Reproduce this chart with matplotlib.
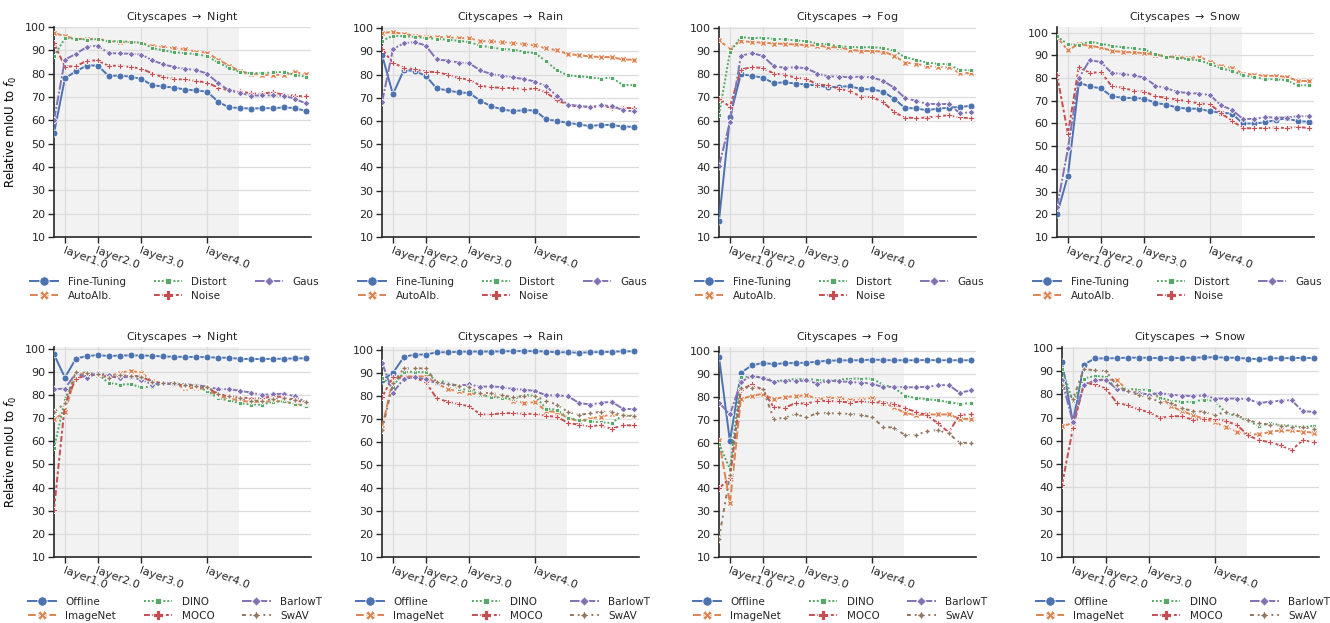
import matplotlib

matplotlib.use("Agg")
import matplotlib.pyplot as plt
import numpy as np

W, H = 1330, 623

COLORS = ["#4C72B0", "#DD8452", "#55A868", "#C44E52", "#8172B3", "#937860"]
MARKERS = ["o", "X", (4, 0, 45), "P", (4, 0, 0), (4, 1, 0)]
DASHES = [None, (4, 1.5), (1, 1), (3, 1.25, 1.5, 1.25), (5, 1, 1, 1), (2, 2, 1, 2)]

tick_pos = [1, 4, 8, 14]
tick_labels = ["layer1.0", "layer2.0", "layer3.0", "layer4.0"]

domains = ["Night", "Rain", "Fog", "Snow"]

top_names = ["Fine-Tuning", "AutoAlb.", "Distort", "Noise", "Gaus"]
bottom_names = ["Offline", "ImageNet", "DINO", "MOCO", "BarlowT", "SwAV"]

# ---- top row: augmentation strategies ----
night_top = [
    [54.5, 78, 81, 83.5, 83.5, 79, 79.2, 78.7, 77.7, 75, 74.5, 74, 73.2, 72.8, 72.3, 68, 65.5, 65.3, 65, 65.2, 65.2, 65.5, 65.3, 64],
    [97.5, 96, 95, 94.8, 95, 94, 93.5, 93.5, 93.2, 92, 91.5, 91, 90.5, 89.5, 89, 86, 83.5, 81, 80, 79.5, 79.5, 79.5, 80.5, 80],
    [87.5, 95.2, 95, 94.6, 94.8, 93.8, 94, 93.6, 93.3, 91, 90, 89.2, 88.8, 88.3, 87.5, 84.8, 82.5, 80.7, 80.2, 80.3, 80.5, 80.8, 79.5, 78.7],
    [93, 83, 83.2, 85.5, 85.7, 83.3, 83.5, 82.8, 82.2, 80, 78.5, 77.7, 77.5, 76.8, 76.2, 74, 72.8, 72.5, 71.5, 71.5, 72, 71, 70.5, 70.3],
    [60, 86, 88.5, 91.5, 92, 88.8, 88.7, 88.5, 88.2, 85.7, 84, 82.8, 82, 81.6, 80, 76, 72.8, 71.8, 70.5, 70.7, 70.7, 70.5, 69.3, 67.3],
]
rain_top = [
    [88.5, 71.5, 82, 81.5, 79.5, 74, 73.2, 72.3, 72, 68.7, 66.3, 65, 64.2, 64.7, 64.5, 60.7, 60, 59.2, 58.5, 57.8, 58.3, 58.3, 57.6, 57.5],
    [98, 98.3, 97.5, 96.8, 96.2, 96.3, 96, 95.8, 95.6, 94.5, 94.3, 94, 93.6, 93.2, 92.6, 91.3, 90.5, 88.8, 88.4, 87.8, 87.6, 87.5, 86.5, 86.4],
    [94.5, 96.8, 96.5, 96.3, 95.7, 95.4, 95, 94.6, 94, 92.5, 91.7, 91, 90.8, 89.8, 89.2, 85.8, 81.8, 79.6, 79.3, 78.8, 78.3, 78.7, 75.6, 75.4],
    [91, 85, 83, 82.2, 81.3, 81, 80, 78.5, 77.8, 75.2, 74.5, 74.3, 74.2, 73.7, 74, 72.3, 69, 67, 66.2, 66, 66.3, 65.8, 65.7, 65.5],
    [68, 91, 93.5, 94, 92.5, 86.5, 86, 85.2, 84.8, 81.8, 80.2, 79.5, 78.8, 78, 77, 75, 70.7, 67, 66.5, 66, 66.7, 66.5, 64.7, 64.1],
]
fog_top = [
    [17, 61.5, 80, 79.3, 78.5, 76.2, 76.5, 76, 75.5, 75.2, 74.3, 74.7, 74.8, 73.6, 73.5, 72.5, 69.5, 65.5, 65.3, 64.5, 65.2, 65.5, 66, 66.3],
    [94.5, 91, 94.3, 93.8, 93.6, 93.2, 93, 92.8, 92.5, 92.3, 91.7, 91.5, 90.5, 90, 90, 89.7, 88, 85, 84.5, 83.5, 83.3, 83, 80.5, 80.5],
    [62.5, 89.5, 96, 95.5, 95.7, 95.2, 95, 94.5, 94.2, 93.2, 92.8, 92, 91.8, 91.5, 91.7, 91.2, 90.2, 87.3, 86.2, 85, 84.5, 84.3, 81.8, 81.7],
    [69.5, 66, 82, 83, 82.7, 80.3, 79.8, 78.5, 78, 75.5, 75.2, 73.7, 72.7, 70.3, 70.2, 68, 63.8, 61.3, 61.2, 61.3, 62, 62.3, 61.4, 61.1],
    [40.5, 59.5, 87.8, 89.2, 87.8, 83.5, 82.7, 83, 82.5, 80.3, 79, 79, 78.6, 79, 78.6, 77.2, 74.2, 69.8, 68.5, 67.3, 67.1, 67.2, 63.3, 63.6],
]
snow_top = [
    [20, 37, 78, 76.3, 75.5, 72, 71.3, 71.2, 71, 69, 68.3, 67, 66.5, 66.5, 65.3, 64.8, 64.3, 60, 60, 60.5, 61.5, 62.3, 61, 60.8],
    [98, 92.3, 95, 94.2, 93.5, 92, 91.5, 91.3, 91, 90.3, 89.5, 89.3, 88.8, 89.3, 87.3, 85.3, 84.5, 82, 81.5, 81, 81, 80.5, 78.8, 78.7],
    [98.5, 94.8, 94.7, 96, 95.2, 94.2, 93.6, 93.1, 92.6, 90.5, 89.5, 89, 88.3, 87.8, 86.2, 84.3, 83.2, 81.2, 80.5, 79.5, 79.5, 79, 76.8, 76.8],
    [81.5, 55.5, 85, 82.2, 82.7, 76.5, 75.7, 74.5, 74, 72, 71.3, 70.5, 69.8, 68.8, 68.5, 64.5, 61.2, 58, 57.8, 58, 58.2, 58, 58.5, 58],
    [23, 49, 80, 88, 87, 82.3, 81.8, 81.2, 80.2, 76.7, 75.5, 74, 73.3, 73.2, 72.5, 68, 66, 62, 62, 62.8, 62.6, 62.6, 63.2, 63.2],
]

# ---- bottom row: pre-training ----
night_bottom = [
    [97.5, 87.5, 95.7, 96.8, 97.2, 96.8, 97, 97.1, 97, 96.9, 96.6, 96.5, 96.4, 96.4, 96.3, 96.1, 96, 95.6, 95.5, 95.5, 95.6, 95.6, 95.8, 95.8],
    [69.5, 72.5, 89, 89, 88.7, 88, 89.5, 90.5, 89.5, 86, 85, 84.5, 83, 83, 82.5, 79.5, 78.5, 77.5, 77, 77, 77.3, 77.3, 76, 75.5],
    [57, 78, 89, 88, 89, 85.2, 84.5, 84.6, 83.3, 83.5, 85, 84.5, 84, 83.5, 81.8, 78.5, 77.6, 76.5, 75.8, 75.8, 77, 77.2, 76.2, 75.2],
    [30.5, 76, 87, 88.5, 88.8, 88, 87.5, 88.3, 88, 85.5, 85, 84.5, 84, 83.5, 83.5, 80, 79.5, 79, 78.5, 78.5, 79.5, 79, 78, 76.5],
    [82.5, 82.7, 89.5, 87.5, 89.5, 88.5, 87.5, 87.8, 86.5, 84.5, 85, 84.8, 84.5, 84.3, 83.5, 82.5, 82.5, 81.8, 81, 80, 80.3, 80.5, 79.5, 77],
    [72.5, 76.5, 90, 89.5, 89, 87.2, 88.5, 88.2, 87.8, 85.7, 85.3, 85, 84.5, 84, 83.5, 80.5, 79.5, 78.5, 77.5, 77.5, 78.2, 78.5, 77.8, 77],
]
rain_bottom = [
    [87, 90, 97, 98, 98, 99, 99, 99.2, 99.3, 99.3, 99.3, 99.4, 99.5, 99.5, 99.5, 99.3, 99, 99, 98.8, 99, 99.1, 99.2, 99.4, 99.4],
    [66, 87, 88.5, 88.5, 88.5, 85.5, 83, 82, 81.3, 80.5, 80, 79.5, 78, 77, 77.3, 73.5, 73, 70.5, 69, 70.2, 71, 72, 71.5, 71.3],
    [88, 84, 90.5, 90.5, 90.3, 86.5, 86.2, 83.2, 82.5, 80.5, 79.5, 79.3, 78.5, 80.5, 80, 74.5, 74, 70.5, 69.5, 69, 68.5, 68.3, 71.5, 71.3],
    [79.5, 88.2, 88, 88, 86, 79, 77.5, 76.5, 75.5, 72, 72, 72.5, 72.6, 72.2, 72.3, 71.3, 71, 68.3, 67.5, 66.8, 67.3, 65.7, 67.3, 67.2],
    [94.5, 81.5, 87.5, 88.2, 87.2, 85.5, 85.3, 84.5, 85, 84, 84.2, 83.8, 83, 82.7, 82.2, 80.3, 80.3, 79.9, 77, 76.3, 77, 77.5, 74.5, 74.2],
    [65, 85.5, 92, 92, 92, 86, 85.3, 84.5, 83.8, 81.3, 81.3, 80.3, 79.5, 80, 80, 77.8, 76.3, 73, 71.7, 72.5, 73.1, 73.2, 71.6, 71.3],
]
fog_bottom = [
    [97.5, 60.5, 90.5, 93.8, 94.8, 94.3, 94.7, 94.8, 94.9, 95.4, 95.8, 95.9, 96, 96, 96.3, 96.1, 96, 96, 96, 96.1, 96, 96, 96, 96],
    [61, 33.5, 79, 80.5, 81.3, 79, 80, 80.3, 80.8, 79, 79.5, 79.5, 78.5, 79, 79.5, 77.5, 75.5, 73, 72, 72.3, 72.3, 72.3, 70.5, 70.3],
    [59.5, 48.5, 88.5, 89, 88.5, 87, 87.2, 87.8, 87.8, 87.5, 87, 87.5, 88, 88, 88, 85.3, 84, 80.5, 79.5, 79, 78.5, 77.7, 77, 77.2],
    [40, 44.5, 83, 85.5, 83, 75.5, 75.2, 77.3, 77, 78.3, 78.2, 78, 77.5, 78, 77.6, 77.5, 77, 75, 73.5, 72, 68.5, 64.5, 72, 72.5],
    [77.5, 72.3, 86.5, 89.2, 88.2, 86.6, 87, 86.8, 87.2, 85.8, 87, 86.8, 86.5, 86.2, 85.8, 84.2, 84.4, 84.2, 84.2, 84.4, 85, 85.2, 81.8, 82.8],
    [18, 46, 84, 84, 83.5, 70.5, 70.8, 72.5, 71, 73, 72.8, 72.8, 72.5, 72.2, 71, 67, 66.5, 63.3, 63.2, 65, 65.5, 64, 60, 59.8],
]
snow_bottom = [
    [94, 68, 92.8, 95.5, 95.5, 95.6, 95.8, 95.8, 95.7, 95.6, 95.6, 95.7, 95.8, 95.9, 96, 95.8, 95.7, 95.4, 95.2, 95.5, 95.6, 95.6, 95.7, 95.6],
    [66.5, 67.5, 84, 86, 86.5, 86, 82, 81, 79.5, 79, 74.8, 72.8, 71, 69.5, 68, 65.8, 64, 62.8, 62.8, 63.8, 64.5, 64.5, 64, 63.5],
    [91, 77, 86.8, 88, 87.5, 82.3, 82.5, 82, 82, 78.5, 77.3, 76.8, 76.8, 77.8, 77, 72, 70.5, 68.5, 66.5, 67.5, 66.8, 66.5, 65.8, 66.5],
    [41, 65.5, 84.5, 84.5, 82.5, 76.5, 75.3, 73.5, 72.3, 69.8, 70.7, 70.5, 69, 69.5, 69.5, 68.5, 66.8, 62.5, 60.2, 59.5, 58, 56, 60.2, 59.5],
    [86, 68, 84.2, 86, 86.2, 82.5, 81.3, 80.7, 79.8, 80.6, 79.8, 79.5, 79.2, 79.6, 78.2, 78.2, 78.2, 78, 76.3, 76.8, 77.3, 77.5, 72.7, 72.5],
    [84, 78, 91, 90.3, 90, 84, 81.3, 79.8, 78.5, 76.7, 76.2, 74, 72.8, 72.5, 71, 72.5, 71, 69, 67.5, 67, 66.5, 66, 65.8, 65.3],
]

top_data = [night_top, rain_top, fog_top, snow_top]
bottom_data = [night_bottom, rain_bottom, fog_bottom, snow_bottom]
top_ymax = [100, 100.5, 100.3, 102.5]
bottom_ymax = [100.7, 101.3, 101.8, 100.4]


def px_axes(fig, left, top, width, height):
    return fig.add_axes([left / W, 1 - (top + height) / H, width / W, height / H])


def draw_panel(ax, series, names, domain, ymax, ylabel):
    x = np.arange(len(series[0]))
    ax.axvspan(0, 16.9, color="#f2f2f2", zorder=0, lw=0)
    ax.grid(True, color="#dcdcdc", linewidth=0.9, zorder=0.5)
    ax.set_axisbelow(True)
    for i, (name, vals) in enumerate(zip(names, series)):
        ls = "-" if DASHES[i] is None else (0, DASHES[i])
        ax.plot(x, vals, color=COLORS[i], linestyle=ls, linewidth=1.4,
                marker=MARKERS[i], markersize=5, markeredgecolor="white",
                markeredgewidth=0.6, label=name, zorder=3)
    ax.set_xlim(0, 23.5)
    ax.set_ylim(10, ymax)
    ax.set_yticks(np.arange(10, 101, 10))
    ax.set_xticks(tick_pos)
    ax.set_xticklabels(tick_labels, rotation=-20, ha="left", rotation_mode="anchor")
    ax.tick_params(labelsize=8, length=4, width=1, color="#262626", pad=2)
    for s in ["top", "right"]:
        ax.spines[s].set_visible(False)
    for s in ["left", "bottom"]:
        ax.spines[s].set_linewidth(1.2)
        ax.spines[s].set_color("#262626")
    ax.set_title(r"Cityscapes $\rightarrow$ " + domain, fontsize=8, pad=5)
    if ylabel:
        ax.set_ylabel(r"Relative mIoU to $f_0$", fontsize=8.5, labelpad=4)
    ax.legend(loc="upper center", bbox_to_anchor=(0.47, -0.165), ncol=3,
              frameon=False, fontsize=7.5, handlelength=2.7, columnspacing=2.7,
              handletextpad=0.9, labelspacing=0.35, borderpad=0, markerscale=1.35)


def main():
    plt.rcParams["font.family"] = "DejaVu Sans"
    plt.rcParams["text.color"] = "#262626"
    plt.rcParams["xtick.color"] = "#262626"
    plt.rcParams["ytick.color"] = "#262626"
    fig = plt.figure(figsize=(W / 100, H / 100), dpi=100)

    top_lefts = [54, 382, 719, 1057]
    bottom_lefts = [54, 382, 719, 1062]
    for c in range(4):
        ax = px_axes(fig, top_lefts[c], 27, 257, 210)
        draw_panel(ax, top_data[c], top_names, domains[c], top_ymax[c], c == 0)
        ax = px_axes(fig, bottom_lefts[c], 347, 257, 210)
        draw_panel(ax, bottom_data[c], bottom_names, domains[c], bottom_ymax[c], c == 0)

    fig.savefig("out.png", dpi=100)


if __name__ == "__main__":
    main()
